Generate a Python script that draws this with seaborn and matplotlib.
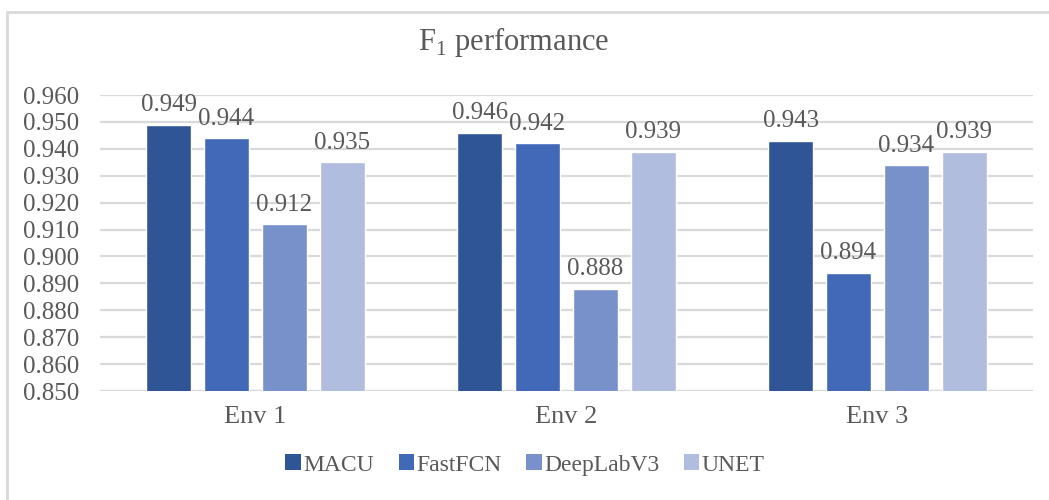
import matplotlib
matplotlib.use("Agg")
import matplotlib.pyplot as plt
from matplotlib.patches import Patch
from matplotlib.lines import Line2D
import seaborn as sns
import pandas as pd

environments = ["Env 1", "Env 2", "Env 3"]
models = ["MACU", "FastFCN", "DeepLabV3", "UNET"]
macu = [0.949, 0.946, 0.943]
fastfcn = [0.944, 0.942, 0.894]
deeplabv3 = [0.912, 0.888, 0.934]
unet = [0.935, 0.939, 0.939]
yticks = [0.850, 0.860, 0.870, 0.880, 0.890, 0.900, 0.910, 0.920, 0.930, 0.940, 0.950, 0.960]

colors = ["#2F5597", "#4169B8", "#7891CB", "#B0BDDF"]
text_color = "#595959"
grid_color = "#D9D9D9"

sns.set_theme(style="white")
plt.rcParams["font.family"] = ["Liberation Serif", "DejaVu Serif"]
plt.rcParams["mathtext.fontset"] = "custom"
plt.rcParams["mathtext.rm"] = "Liberation Serif"

rows = []
for model, vals in zip(models, [macu, fastfcn, deeplabv3, unet]):
    for env, v in zip(environments, vals):
        rows.append({"env": env, "model": model, "score": v})
df = pd.DataFrame(rows)

fig = plt.figure(figsize=(10.49, 5.0), dpi=100)
ax = fig.add_axes([100 / 1049, 1 - 391 / 500, 933 / 1049, 296 / 500])

sns.barplot(data=df, x="env", y="score", hue="model", order=environments,
            hue_order=models, palette=colors, width=0.745, gap=0.22,
            saturation=1, ax=ax, legend=False)

ax.set_ylim(0.850, 0.960)
ax.set_yticks(yticks)
ax.set_yticklabels([f"{t:.3f}" for t in yticks])
ax.set_xlim(-0.5, 2.5)
ax.set_xlabel("")
ax.set_ylabel("")
for s in ax.spines.values():
    s.set_visible(False)
ax.yaxis.grid(True, color=grid_color, linewidth=1.6)
ax.set_axisbelow(True)
ax.axhline(0.850, color=grid_color, linewidth=1.6, zorder=0.5)
ax.tick_params(axis="y", labelsize=18, colors=text_color, length=0, pad=15)
ax.tick_params(axis="x", labelsize=19, colors=text_color, length=0, pad=11)

for container in ax.containers:
    for bar in container:
        h = bar.get_height()
        ax.annotate(f"{h:.3f}", (bar.get_x() + bar.get_width() / 2, h),
                    xytext=(0, 6), textcoords="offset points",
                    ha="center", va="bottom", fontsize=18,
                    color=text_color, annotation_clip=False)

fig.text(514 / 1049, 1 - 42 / 500, r"F$_{\mathrm{1}}$ performance",
         ha="center", va="center", fontsize=22, color=text_color)

handles = [Patch(facecolor=c, edgecolor="none") for c in colors]
fig.legend(handles, models, loc="center", bbox_to_anchor=(525 / 1049, 1 - 465 / 500),
           ncol=4, frameon=False, fontsize=17, handlelength=0.65, handleheight=0.65,
           handletextpad=0.1, columnspacing=1.05, labelcolor=text_color)

# outer chart frame
fig.add_artist(Line2D([7 / 1049, 7 / 1049], [0, 1 - 12 / 500],
                      transform=fig.transFigure, color=grid_color, linewidth=2))
fig.add_artist(Line2D([7 / 1049, 1], [1 - 12 / 500, 1 - 12 / 500],
                      transform=fig.transFigure, color=grid_color, linewidth=2))

fig.savefig("out.png", dpi=100, facecolor="white")
